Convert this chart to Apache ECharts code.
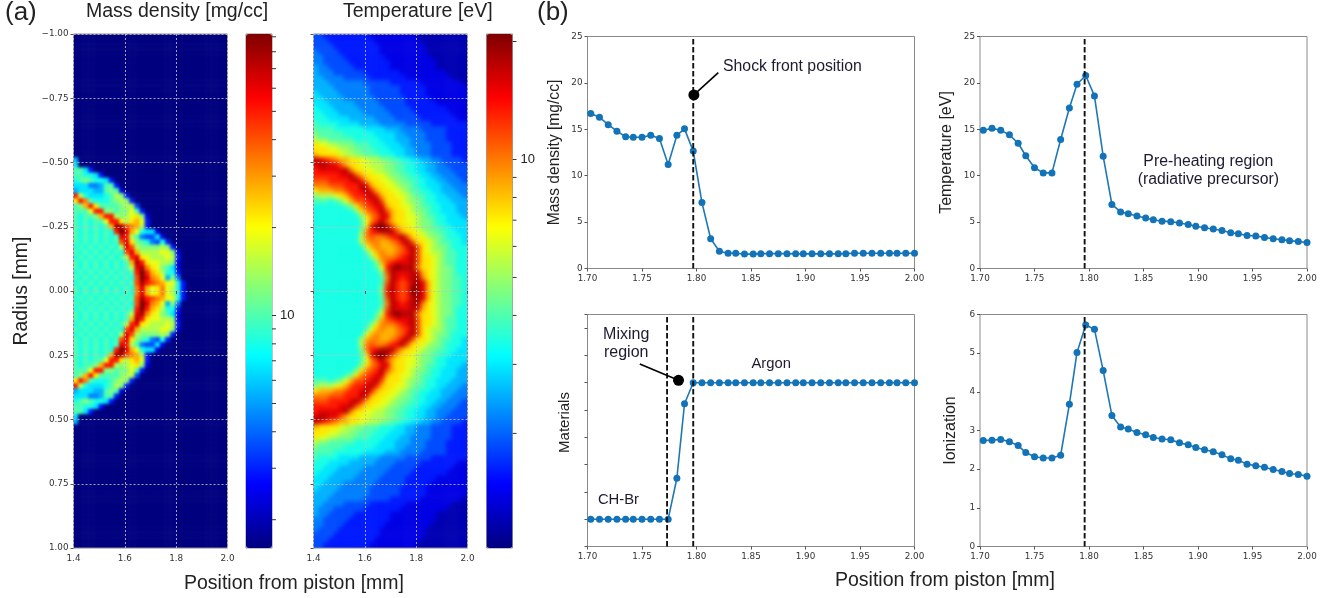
<!DOCTYPE html>
<html><head><meta charset="utf-8"><title>Shock structure</title>
<script src="https://cdn.jsdelivr.net/npm/echarts@6/dist/echarts.min.js"></script>
<style>
html,body{margin:0;padding:0;background:#fff;width:1338px;height:598px;overflow:hidden}
#main{position:absolute;left:0;top:0;width:1338px;height:598px;filter:blur(0.35px)}
.clip{position:absolute;overflow:hidden}
.field{position:absolute}
</style></head><body>
<div class="clip" id="clipA"><div class="field" id="fieldA"></div></div>
<div class="clip" id="clipB"><div class="field" id="fieldB"></div></div>
<div id="main"></div>
<script>
// Line-out positions [mm]
const positions=[1.703,1.711,1.719,1.727,1.735,1.742,1.750,1.758,1.766,1.774,1.782,1.789,1.797,1.805,1.813,1.821,1.829,1.836,1.844,1.852,1.859,1.867,1.875,1.883,1.891,1.898,1.906,1.914,1.922,1.930,1.937,1.945,1.953,1.961,1.969,1.977,1.984,1.992,2.000];
const densityLine=[16.7,16.3,15.5,14.8,14.2,14.15,14.15,14.35,14.0,11.2,14.35,15.05,12.65,7.1,3.2,1.85,1.65,1.65,1.55,1.55,1.6,1.6,1.6,1.6,1.58,1.58,1.58,1.58,1.58,1.58,1.6,1.65,1.65,1.65,1.65,1.65,1.65,1.65,1.65];
const temperatureLine=[14.9,15.1,14.9,14.4,13.5,12.15,10.85,10.3,10.3,13.9,17.3,19.85,20.8,18.6,12.1,6.9,6.1,5.9,5.65,5.45,5.25,5.1,5.05,4.9,4.75,4.55,4.4,4.25,4.1,3.85,3.75,3.55,3.5,3.35,3.2,3.1,3.0,2.9,2.8];
const materialLine=[1,1,1,1,1,1,1,1,1,1,2.5,5.23,6,6,6,6,6,6,6,6,6,6,6,6,6,6,6,6,6,6,6,6,6,6,6,6,6,6,6];
const ionizationLine=[2.74,2.75,2.77,2.71,2.61,2.43,2.32,2.29,2.29,2.36,3.68,5.02,5.73,5.62,4.55,3.39,3.09,3.04,2.95,2.89,2.82,2.78,2.76,2.68,2.63,2.56,2.50,2.45,2.37,2.27,2.23,2.13,2.09,2.05,1.99,1.94,1.89,1.86,1.82];
const shockX=1.797, mixX=1.773;

// Rows run from r = -0.99 towards r = 0; the field is mirror-symmetric about r = 0.
const densityBlankRows=24;
const densityRows=["6","7","9973","998873","89a98873","777556993","6777669a92","hb877789ba3","dhf98889aba3","9aehd9999abb4","999chhaa9aac93","9899aehhbabcda2","989899chhdbdec3","9898989ejjgfeb3","98989898hkiec8772","989898989ihb954472","989898989gida985483","898989898bigbaaaaba3","9898989898giebbbbcca2","8989898989bhidcbbbcb3","98989898989ejhdccbba2","98989898989bijfdca972","898989898989hkhedb883","989898989898gkifec6a5","898989898989gjhgfecc83","989898989898fiecdfcb83"];
const temperatureRows=[
"443333333332222222221111111111","444333333333222222222111111111","444433333333322222222211111111","544443333333322222222211111111","554444333333332222222221111111",
"554444433333333222222222111111","655444443333333222222222111111","655544444433333332222222221111","665555444443333333222222222111","666555555544444333333222222221",
"666655555554444443333322222222","766665555554444443333322222222","776666555555444444333332222222","777666665555544444333333222222","877766666555554444433333332222",
"887776666655555444443333333222","888777766666555544444333333322","988887777666655555444443333333","999988888877776665555444443333","a99999888888777766555544443333",
"baa999998888877766655544443333","dccbbaaa9998887776655554444333","dddccbbaa999888777665554444333","eddddcbbaa99988877665554444333","jihgfeeddccbbaa998877665544443",
"ijjiigeddccbbbaa99887766554444","hiiiiijfddccbbaa99887766555444","hhhhhiijgeddccbaa9988776655544","ggghhhhijheddccbaa998877665554","fffggghhhjieddccbaa98877766555",
"deeeffghhijheddccba99887766655","abbbcdeghhijheddccba9988776665","99989acegghijgdddcbaa988777666","8888889adfghiieddccba998877766","88888888adfghjgeddcbaa98877766",
"888888888adfgiieddccba99887776","8888888889cfhjgeddccbaa9887777","8888888889dikkjgeddcbaa9988777","888888888afhijjjgeddcbaa998877","888888888bfgffghijgddcbaa98887",
"888888888beffeefgijgddcba99887","8888888888cefeeefgijgdcbaa9888","88888888889cefeefghjgdcbba9988","88888888888adfffghijgddcba9988","888888888888aeghiiijgddcba9988",
"8888888888889chjkjjjfddcbaa988","8888888888888agjiiijiedcbaa988","88888888888889fjihijjfdcbaa998","88888888888889gjhghjjiecbaa998","8888888888888ahjhghkjiecbaa998"];
const cellXs=["1.41","1.43","1.45","1.47","1.49","1.51","1.53","1.55","1.57","1.59","1.61","1.63","1.65","1.67","1.69","1.71","1.73","1.75","1.77","1.79","1.81","1.83","1.85","1.87","1.89","1.91","1.93","1.95","1.97","1.99"];
const levelChars="0123456789abcdefghijk";
const jet=['#00007f','#0000ff','#007fff','#00ffff','#7fff7f','#ffff00','#ff7f00','#ff0000','#7f0000'];

// Axis ticks
const densityBarTicks=[2,3,4,5,6,7,8,9,10,20,30,40,50,60,70,80,90];
const temperatureBarTicks=[2,3,4,5,6,7,8,9,10,20];
const barLabels=[10];
const densityBarRange=[1.6,92];
const temperatureBarRange=[1.02,20.9];

// Annotations: [x, y, text]
const densityNotes=[[1.888,21.76,'Shock front position']];
const temperatureNotes=[[1.9095,11.55,'Pre-heating region'],[1.9095,9.53,'(radiative precursor)']];
const mixingNotes=[[1.7355,7.76,'Mixing'],[1.7355,7.09,'region']];
const materialNotes=[[1.8685,6.69,'Argon'],[1.7284,1.7,'CH-Br']];
const densityPointer=[[1.7976,18.7],[1.82,21.1]];
const materialPointer=[[1.7835,6.09],[1.748,6.69]];

const SANS='"Liberation Sans",Arial,sans-serif', MPL='"DejaVu Sans",sans-serif';

// The map layer is drawn one cell larger on each side so the soft focus does not fade at the plot edge.
function cells(rows,blank){
  const half=[];
  for(let b=0;b<blank;b++)half.push('');
  rows.forEach(r=>half.push(r));
  const full=half.concat(half.slice().reverse());
  const nx=cellXs.length, ny=full.length, out=[];
  for(let j=-1;j<=ny;j++){
    const row=full[Math.min(ny-1,Math.max(0,j))];
    for(let i=-1;i<=nx;i++){
      const k=Math.min(nx-1,Math.max(0,i));
      out.push([i+1,j+1,levelChars.indexOf(k<row.length?row[k]:'0')]);
    }
  }
  return out;
}
const heatRects=[{left:73.5,top:34,width:154,height:514},{left:313.5,top:34,width:154,height:514}];
const padX=154/30, padY=514/100;
function drawField(clipId,fieldId,rect,rows,blank,blur){
  const c=document.getElementById(clipId), f=document.getElementById(fieldId);
  c.style.cssText=`left:${rect.left}px;top:${rect.top}px;width:${rect.width}px;height:${rect.height}px`;
  f.style.cssText=`left:${-padX}px;top:${-padY}px;width:${rect.width+2*padX}px;height:${rect.height+2*padY}px;filter:blur(${blur}px)`;
  const ch=echarts.init(f,null,{renderer:'canvas'});
  const xNames=[];for(let i=0;i<32;i++)xNames.push(String(i));
  const yNames=[];for(let j=0;j<102;j++)yNames.push(String(j));
  ch.setOption({animation:false,
    grid:{left:0,right:0,top:0,bottom:0},
    xAxis:{type:'category',data:xNames,show:false},
    yAxis:{type:'category',data:yNames,inverse:true,show:false},
    visualMap:{show:false,min:0,max:20,dimension:2,inRange:{color:jet}},
    series:[{type:'heatmap',data:cells(rows,blank),progressive:0,emphasis:{disabled:true}}]});
}
drawField('clipA','fieldA',heatRects[0],densityRows,densityBlankRows,1.4);
drawField('clipB','fieldB',heatRects[1],temperatureRows,0,2.2);

const frame={show:true,borderColor:'#8a8a8a',borderWidth:1,backgroundColor:'transparent'};
const lineRects=[
 {left:587.5,top:36.5,width:327,height:232},
 {left:980,top:36.5,width:327,height:232},
 {left:587.5,top:314.5,width:327,height:232},
 {left:980,top:314.5,width:327,height:232}];
const barRects=[{left:246,top:34,width:26,height:514},{left:486.5,top:34,width:26,height:514}];
const grids=heatRects.concat(barRects,lineRects).map(r=>Object.assign({},frame,r));

const tickText={fontFamily:MPL,fontSize:8.8,color:'#333'};
const axisTick={show:true,length:3,lineStyle:{color:'#555'}};
const gridDash={show:true,lineStyle:{color:'rgba(190,190,190,0.85)',type:[2,2],width:1}};
const xs=[],ys=[];
heatRects.forEach((_,g)=>{
  xs.push({gridIndex:g,type:'value',min:1.4,max:2.0,interval:0.2,axisLine:{show:false},axisTick,splitLine:gridDash,
    axisLabel:Object.assign({},tickText,{margin:6,formatter:v=>v.toFixed(1)})});
  ys.push({gridIndex:g,type:'value',min:-1,max:1,interval:0.25,inverse:true,axisLine:{show:false},axisTick,splitLine:gridDash,
    axisLabel:Object.assign({},tickText,{show:g===0,margin:5,formatter:v=>(v<0?'\u2212':'')+Math.abs(v).toFixed(2)}),
    name:g===0?'Radius [mm]':'',nameLocation:'middle',nameGap:42,nameTextStyle:{fontFamily:SANS,fontSize:19.4,color:'#222'}});
});
[densityBarRange,temperatureBarRange].forEach((range,n)=>{
  const g=2+n;
  xs.push({gridIndex:g,type:'value',min:0,max:1,show:false});
  ys.push({gridIndex:g,type:'log',logBase:10,min:range[0],max:range[1],position:'right',axisLine:{show:false},splitLine:{show:false},minorTick:{show:false},
    axisTick:{show:false},
    axisLabel:{show:true,customValues:barLabels,fontFamily:SANS,fontSize:13,color:'#222',margin:8,formatter:v=>String(Math.round(v))}});
});
const yLabels=[['Mass density [mg/cc]',0,25,5,true,25,15.6,0],['Temperature [eV]',0,25,5,true,25,16,0],['Materials',0,8.5,1,false,15,15,16],['Ionization',0,6,1,true,21,16,0]];
yLabels.forEach(([name,mn,mx,iv,lab,gap,size,shift],n)=>{
  const g=4+n;
  xs.push({gridIndex:g,type:'value',min:1.7,max:2.0,interval:0.05,axisLine:{show:false},axisTick,splitLine:{show:false},
    axisLabel:Object.assign({},tickText,{margin:6,formatter:v=>v.toFixed(2)})});
  ys.push({gridIndex:g,type:'value',min:mn,max:mx,interval:iv,axisLine:{show:false},axisTick,splitLine:{show:false},
    axisLabel:Object.assign({},tickText,{show:lab,margin:5}),
    name,nameLocation:'middle',nameGap:gap,nameTextStyle:{fontFamily:SANS,fontSize:size,color:'#222',padding:[0,0,0,shift]}});
});

function lineSeries(g,vals){
  return {type:'line',xAxisIndex:g,yAxisIndex:g,data:positions.map((x,i)=>[x,vals[i]]),symbol:'circle',symbolSize:7,
    lineStyle:{color:'#1f77b4',width:1.6},itemStyle:{color:'#1273b8'},z:3};
}
function vline(g,x,mn,mx){
  return {type:'line',xAxisIndex:g,yAxisIndex:g,data:[[x,mn],[x,mx]],showSymbol:false,symbol:'none',lineStyle:{color:'#111',width:1.9,type:[5.5,2.5]},z:4};
}
function notes(g,list,size){
  return {type:'scatter',xAxisIndex:g,yAxisIndex:g,symbolSize:1,itemStyle:{color:'rgba(0,0,0,0)',opacity:1},
    data:list.map(n=>({value:[n[0],n[1]],label:{formatter:n[2]}})),
    label:{show:true,position:'inside',fontFamily:SANS,fontSize:size,color:'#1c1b30'},z:6};
}
function pointer(g,pts){
  return [{type:'line',xAxisIndex:g,yAxisIndex:g,data:pts,symbol:'none',lineStyle:{color:'#000',width:1.6},z:5},
          {type:'scatter',xAxisIndex:g,yAxisIndex:g,data:[pts[0]],symbolSize:11,itemStyle:{color:'#000',opacity:1},z:7}];
}
function barTicks(g,ticks){
  return {type:'scatter',xAxisIndex:g,yAxisIndex:g,data:ticks.map(t=>[1,t]),clip:false,symbol:'rect',symbolSize:[4,1],symbolOffset:[2,0],itemStyle:{color:'#333',opacity:1},z:2};
}
const series=[
  barTicks(2,densityBarTicks),barTicks(3,temperatureBarTicks),
  lineSeries(4,densityLine),vline(4,shockX,0,25),notes(4,densityNotes,15.8),...pointer(4,densityPointer),
  lineSeries(5,temperatureLine),vline(5,shockX-0.001,0,25),notes(5,temperatureNotes,15.8),
  lineSeries(6,materialLine),vline(6,shockX,0,8.5),vline(6,mixX,0,8.5),notes(6,mixingNotes,16),notes(6,materialNotes,14.8),...pointer(6,materialPointer),
  lineSeries(7,ionizationLine),vline(7,shockX-0.001,0,6)
];

const text=(t,left,top,size)=>({text:t,left,top,padding:0,textStyle:{fontFamily:SANS,fontSize:size,fontWeight:'normal',color:'#222'}});
const barMap=(left)=>({type:'continuous',show:true,min:0,max:20,seriesIndex:[],calculable:false,realtime:false,left,top:34,padding:0,itemWidth:26,itemHeight:514,showLabel:false,inRange:{color:jet},borderWidth:0,text:null});
const main=echarts.init(document.getElementById('main'),null,{renderer:'canvas'});
main.setOption({
  animation:false,
  backgroundColor:'transparent',
  title:[
    text('(a)',5,0,26),text('(b)',537,0,26),
    text('Mass density [mg/cc]',86,2,19.5),text('Temperature [eV]',343,2,19.5),
    text('Position from piston [mm]',184,574,19.5),text('Position from piston [mm]',835,571,19.5)
  ],
  visualMap:[barMap(246),barMap(486.5)],
  grid:grids,xAxis:xs,yAxis:ys,series
});
</script></body></html>
